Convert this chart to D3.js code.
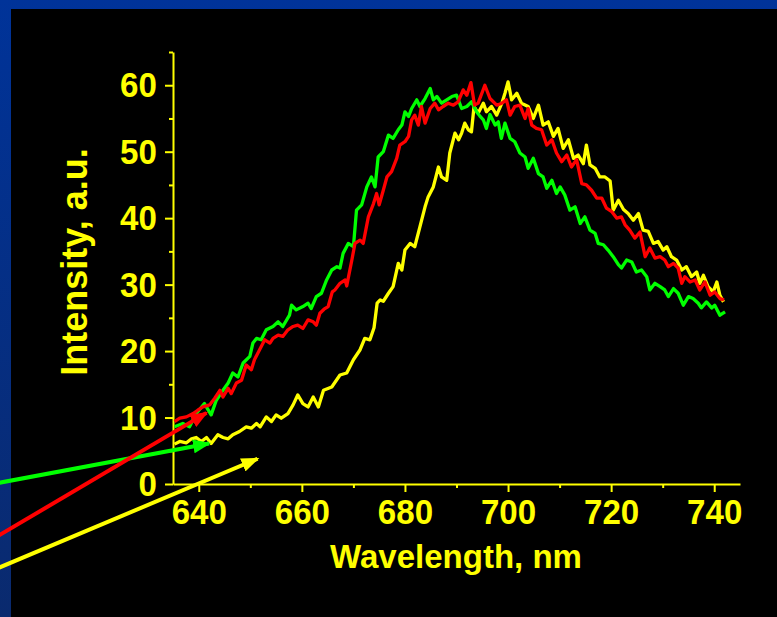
<!DOCTYPE html>
<html>
<head>
<meta charset="utf-8">
<script src="https://cdn.jsdelivr.net/npm/d3@7"></script>
<style>
  body { margin: 0; background: #000; overflow: hidden; }
  .axis path, .axis line { stroke: #ffff00; stroke-width: 2; }
  .axis text { fill: #ffff00; font-family: "Liberation Sans", Arial, sans-serif; font-weight: bold; font-size: 36px; }
  .axis-title { fill: #ffff00; font-family: "Liberation Sans", Arial, sans-serif; font-weight: bold; }
</style>
</head>
<body>
<div id="chart"></div>
<script>
// Spectra: wavelength (nm) and intensity (a.u.)
const greenX = [635.3,636.9,638.2,639.5,641.1,642.4,643.4,644.7,645.7,646.6,647.6,648.6,649.9,650.5,651.2,652.1,653.1,654.4,655.4,656.3,657.6,658.0,658.9,660.2,661.2,661.8,662.8,663.8,664.8,665.8,666.8,667.4,668.0,669.0,670.0,670.6,671.6,672.6,673.5,674.2,674.8,675.8,676.8,677.7,678.7,679.4,680.0,680.7,681.3,682.3,682.9,683.9,684.9,685.5,686.2,687.1,688.1,689.1,690.0,691.0,692.0,692.9,693.9,694.5,695.2,695.8,696.5,697.5,698.1,698.7,699.4,700.4,701.3,702.3,703.3,703.9,704.9,705.9,706.8,707.5,708.5,709.4,710.1,711.0,712.0,713.0,714.0,714.9,715.9,716.9,717.5,718.5,719.4,720.4,721.4,722.0,723.0,724.0,724.9,725.9,726.9,727.5,728.5,729.5,730.4,731.1,732.1,733.0,734.0,735.0,735.9,736.9,737.5,738.5,739.5,740.1,741.1,742.1];
const greenY = [8.6,9.1,8.6,10.6,12.1,10.4,12.6,14.1,15.2,16.7,16.1,18.2,19.2,21.2,21.9,21.7,23.2,23.7,24.4,23.7,25.4,26.9,26.2,26.7,27.2,26.4,28.2,28.7,30.7,32.2,32.7,32.5,34.7,36.2,35.7,41.2,42.0,44.7,46.2,44.7,49.2,50.0,52.5,52.0,53.3,54.0,56.0,55.3,56.5,57.8,56.8,58.0,59.5,57.8,58.3,57.3,57.8,58.3,58.5,56.5,56.8,57.5,56.0,55.4,54.8,53.5,55.6,54.0,54.5,52.0,54.3,52.0,51.5,49.8,49.2,47.5,49.0,46.7,46.2,44.5,45.7,43.7,44.7,43.5,41.2,41.7,39.2,40.2,38.2,37.7,36.2,36.0,35.2,34.2,33.0,32.5,33.7,33.4,31.9,32.2,31.2,29.2,30.2,29.7,29.2,28.2,29.4,28.7,26.9,28.2,27.9,27.2,26.5,27.4,26.5,26.9,25.4,25.9];

const redX = [635.3,636.3,637.6,638.9,639.8,640.8,642.1,643.1,644.1,644.7,645.7,646.3,647.3,648.3,649.2,650.2,650.8,651.8,652.8,653.8,654.4,655.4,656.3,657.3,658.3,659.2,660.2,661.2,662.2,662.8,663.5,664.3,665.1,665.9,666.4,667.4,668.4,668.7,669.7,670.3,671.3,671.9,672.9,673.9,674.5,675.0,675.8,676.5,677.4,678.4,679.0,680.0,680.7,681.3,681.9,682.6,683.2,683.9,684.9,685.8,686.5,687.4,688.4,689.4,690.3,691.3,692.0,692.8,693.5,694.2,695.5,696.5,697.8,698.8,699.7,700.4,701.3,702.3,703.3,703.9,704.6,705.5,706.5,707.5,708.5,709.4,710.4,711.4,712.3,713.3,714.3,715.2,716.2,717.2,718.2,719.1,720.1,721.1,722.0,722.7,723.6,724.6,725.6,726.6,727.5,728.5,729.5,730.4,731.1,732.1,733.0,733.7,734.3,735.3,736.3,737.2,738.2,739.2,740.1,741.1,741.9];
const redY = [9.4,9.9,10.1,10.6,11.1,11.6,11.9,12.9,14.1,13.1,14.4,13.6,15.2,15.6,17.9,17.2,18.7,20.2,21.7,21.2,21.9,22.4,22.2,23.2,23.7,23.9,23.4,24.7,24.4,23.9,25.7,26.3,26.7,28.9,29.2,30.2,30.7,29.8,33.7,36.2,36.7,36.2,40.2,42.2,43.7,42.0,44.2,46.2,47.0,49.0,51.0,51.5,52.3,54.8,55.5,54.0,56.8,54.3,56.5,57.3,56.3,56.8,57.3,57.0,57.5,59.3,58.5,60.4,57.0,57.3,60.0,58.0,57.0,57.3,57.8,55.5,56.8,57.0,55.0,56.5,54.0,53.5,53.3,51.0,51.8,49.8,48.5,49.5,47.7,48.8,45.2,45.0,44.2,43.0,43.0,41.5,41.0,40.0,40.2,39.0,38.2,37.0,37.9,34.2,35.5,34.0,34.2,33.7,32.7,33.2,32.5,30.2,31.2,30.4,30.7,29.2,30.4,28.4,28.9,27.9,27.7];

const yellowX = [635.3,636.3,637.6,638.6,639.5,640.5,641.5,642.4,643.7,644.7,645.7,646.6,647.9,649.2,650.2,651.2,651.9,653.1,654.1,655.0,656.0,657.3,658.3,659.2,660.2,661.2,662.2,663.2,664.2,665.8,667.4,668.7,670.0,671.3,672.2,673.2,674.0,674.6,675.2,675.8,676.8,677.7,678.7,679.4,680.0,681.0,681.9,682.9,683.9,684.5,685.5,686.5,687.1,688.1,688.7,689.7,690.4,691.0,691.6,692.3,692.9,693.4,694.2,695.2,695.8,696.8,697.8,698.8,699.4,700.0,700.7,701.7,702.6,703.9,704.9,705.9,706.8,707.8,708.8,709.7,710.7,711.7,712.7,713.6,714.6,715.2,715.9,716.9,717.8,718.8,719.8,720.4,721.4,722.4,723.3,724.3,725.3,726.2,727.2,728.2,729.1,730.1,730.8,731.7,732.7,733.7,734.6,735.6,736.6,737.2,737.9,738.8,739.8,740.5,741.1,741.8];
const yellowY = [6.0,6.4,6.2,6.8,7.0,6.4,7.0,6.1,7.4,7.0,6.8,7.4,7.9,8.6,8.4,9.1,8.6,10.1,9.4,10.4,9.9,10.6,11.9,13.4,12.1,11.6,13.1,11.6,14.1,14.6,16.4,16.7,18.7,20.2,21.9,21.7,23.5,27.2,27.7,27.5,28.7,29.7,33.2,32.2,35.2,36.2,35.7,38.7,41.7,43.2,44.7,47.7,46.2,45.7,49.8,52.8,51.8,52.8,54.3,53.3,53.0,56.8,55.8,57.3,56.0,56.8,55.5,57.3,58.8,60.5,57.8,58.8,57.3,56.8,55.0,57.0,54.0,54.5,52.3,53.5,50.5,51.8,49.0,49.5,48.2,51.0,48.0,47.5,46.2,46.2,45.6,41.2,42.7,41.3,40.7,39.7,40.7,38.2,38.0,36.2,36.5,35.2,35.7,34.2,33.7,32.2,32.7,31.2,31.9,30.2,31.4,29.7,28.9,30.4,28.4,27.4];

// Arrows pointing at the curves: [tail wavelength, tail intensity, tip wavelength, tip intensity]
const greenArrow = [600, 0.0, 642.0, 6.1];
const redArrow = [600, -8.3, 641.5, 10.7];
const yellowArrow = [600, -13.0, 651.4, 3.8];

const xTicks = [640, 660, 680, 700, 720, 740];
const xMinorTicks = [650, 670, 690, 710, 730];
const yTicks = [0, 10, 20, 30, 40, 50, 60];
const yMinorTicks = [5, 15, 25, 35, 45, 55, 65];

function createChart() {
    const W = 777, H = 617;
    const svg = d3.select("#chart").append("svg")
        .attr("width", W)
        .attr("height", H);

    // background: blue slide with black panel
    const grad = svg.append("defs").append("linearGradient")
        .attr("id", "bg").attr("x1", 0).attr("y1", 0).attr("x2", 0).attr("y2", 1);
    grad.append("stop").attr("offset", "0%").attr("stop-color", "#003399");
    grad.append("stop").attr("offset", "100%").attr("stop-color", "#0a2a6e");
    svg.append("rect").attr("width", W).attr("height", H).attr("fill", "url(#bg)");
    svg.append("rect").attr("x", 11).attr("y", 9).attr("width", W - 11).attr("height", H - 9).attr("fill", "#000");

    const xScale = d3.scaleLinear().domain([635, 745]).range([173, 740]);
    const yScale = d3.scaleLinear().domain([0, 65]).range([484, 52]);

    // minor ticks
    svg.append("g")
        .attr("class", "axis")
        .attr("transform", "translate(0,484)")
        .call(d3.axisBottom(xScale).tickValues(xMinorTicks).tickFormat("").tickSize(4).tickSizeOuter(0))
        .select(".domain").remove();
    svg.append("g")
        .attr("class", "axis")
        .attr("transform", "translate(173,0)")
        .call(d3.axisLeft(yScale).tickValues(yMinorTicks).tickFormat("").tickSize(4).tickSizeOuter(0))
        .select(".domain").remove();

    // major axes (labels slightly condensed like the original)
    svg.append("g")
        .attr("class", "axis")
        .attr("transform", "translate(0,484)")
        .call(d3.axisBottom(xScale).tickValues(xTicks).tickFormat(d3.format("d")).tickSize(8).tickPadding(6).tickSizeOuter(0))
        .selectAll(".tick text").attr("transform", "scale(0.92,1)");
    svg.append("g")
        .attr("class", "axis")
        .attr("transform", "translate(173,0)")
        .call(d3.axisLeft(yScale).tickValues(yTicks).tickFormat(d3.format("d")).tickSize(8).tickPadding(9.5).tickSizeOuter(0))
        .selectAll(".tick text").attr("transform", "scale(0.92,1)");

    // axis titles
    svg.append("text")
        .attr("class", "axis-title")
        .attr("x", 456)
        .attr("y", 568)
        .style("font-size", "33px")
        .style("text-anchor", "middle")
        .text("Wavelength, nm");

    svg.append("text")
        .attr("class", "axis-title")
        .attr("transform", "translate(87,262) rotate(-90)")
        .style("font-size", "36px")
        .style("text-anchor", "middle")
        .text("Intensity, a.u.");

    const line = d3.line()
        .x(d => xScale(d[0]))
        .y(d => yScale(d[1]));

    const series = [
        { name: "yellow", xs: yellowX, ys: yellowY, color: "#ffff00" },
        { name: "green", xs: greenX, ys: greenY, color: "#00ff00" },
        { name: "red", xs: redX, ys: redY, color: "#ff0000" }
    ];

    series.forEach(s => {
        svg.append("path")
            .datum(s.xs.map((x, i) => [x, s.ys[i]]))
            .attr("d", line)
            .style("fill", "none")
            .style("stroke", s.color)
            .style("stroke-width", 3.3)
            .style("stroke-linejoin", "round");
    });

    // arrows
    const arrows = [
        { a: yellowArrow, color: "#ffff00" },
        { a: greenArrow, color: "#00ff00" },
        { a: redArrow, color: "#ff0000" }
    ];
    const defs = svg.select("defs");
    arrows.forEach((ar, i) => {
        defs.append("marker")
            .attr("id", "head" + i)
            .attr("markerUnits", "userSpaceOnUse")
            .attr("viewBox", "0 0 18 14")
            .attr("refX", 16)
            .attr("refY", 7)
            .attr("markerWidth", 18)
            .attr("markerHeight", 14)
            .attr("orient", "auto")
            .append("path")
            .attr("d", "M0,0 L18,7 L0,14 Z")
            .attr("fill", ar.color);

        svg.append("line")
            .attr("x1", xScale(ar.a[0]))
            .attr("y1", yScale(ar.a[1]))
            .attr("x2", xScale(ar.a[2]))
            .attr("y2", yScale(ar.a[3]))
            .style("stroke", ar.color)
            .style("stroke-width", 4)
            .attr("marker-end", `url(#head${i})`);
    });
}

createChart();
</script>
</body>
</html>
